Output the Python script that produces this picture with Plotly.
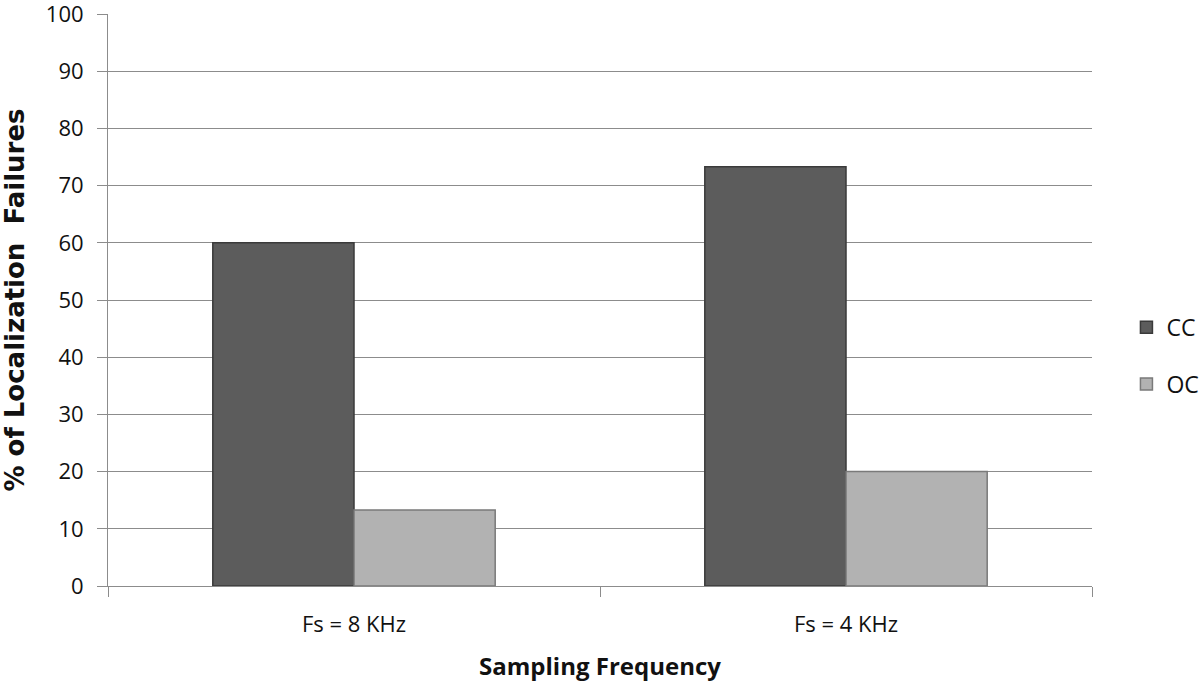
import plotly.graph_objects as go

categories = ["Fs = 8 KHz", "Fs = 4 KHz"]
cc_values = [60, 73.3]
oc_values = [13.3, 20]
y_ticks = [0, 10, 20, 30, 40, 50, 60, 70, 80, 90, 100]

fig = go.Figure()
fig.add_trace(go.Bar(
    name="CC", x=categories, y=cc_values, legendgroup="cc",
    marker=dict(color="#5c5c5c", line=dict(color="#3a3a3a", width=1.5)),
))
fig.add_trace(go.Bar(
    name="OC", x=categories, y=oc_values, legendgroup="oc",
    marker=dict(color="#b2b2b2", line=dict(color="#7a7a7a", width=1.5)),
))

tick_font = dict(family="Open Sans, Lato, sans-serif", size=22, color="#111111")
legend_font = dict(family="Open Sans, Lato, sans-serif", size=23, color="#111111")
xtitle_font = dict(family="Open Sans, Lato, sans-serif", size=24, color="#111111")
ytitle_font = dict(family="DejaVu Sans, Liberation Sans, sans-serif", size=26, color="#111111")

fig.update_layout(
    width=1200, height=685,
    margin=dict(l=108, r=108, t=14, b=99, autoexpand=False),
    paper_bgcolor="white", plot_bgcolor="white",
    barmode="group", bargap=0.426, bargroupgap=0,
    showlegend=True,
    legend=dict(x=1.035, y=0.49, xanchor="left", yanchor="top",
                font=legend_font, tracegroupgap=24, bgcolor="rgba(0,0,0,0)"),
    xaxis=dict(
        showline=True, linecolor="#8c8c8c", linewidth=1,
        ticks="outside", ticklen=10, tickcolor="#8c8c8c", tickson="boundaries",
        tickfont=tick_font, showgrid=False, ticklabelstandoff=19,
        title=dict(text="<b>Sampling Frequency</b>", font=xtitle_font, standoff=20),
        automargin=False,
    ),
    yaxis=dict(
        range=[0, 100], tickvals=y_ticks,
        showline=True, linecolor="#8c8c8c", linewidth=1,
        ticks="outside", ticklen=10, tickcolor="#8c8c8c",
        showgrid=True, gridcolor="#8c8c8c", gridwidth=1,
        tickfont=tick_font, zeroline=False, ticklabelstandoff=9,
        ticklabeloverflow="allow",
        title=dict(text="<b>% of Localization  Failures</b>", font=ytitle_font, standoff=25),
        automargin=False,
    ),
)

# remove the default 8px page margin so the 1200x685 figure fills the window exactly
fig.write_html("out.html", config={"displayModeBar": False},
               post_script="document.body.style.margin='0px';")
